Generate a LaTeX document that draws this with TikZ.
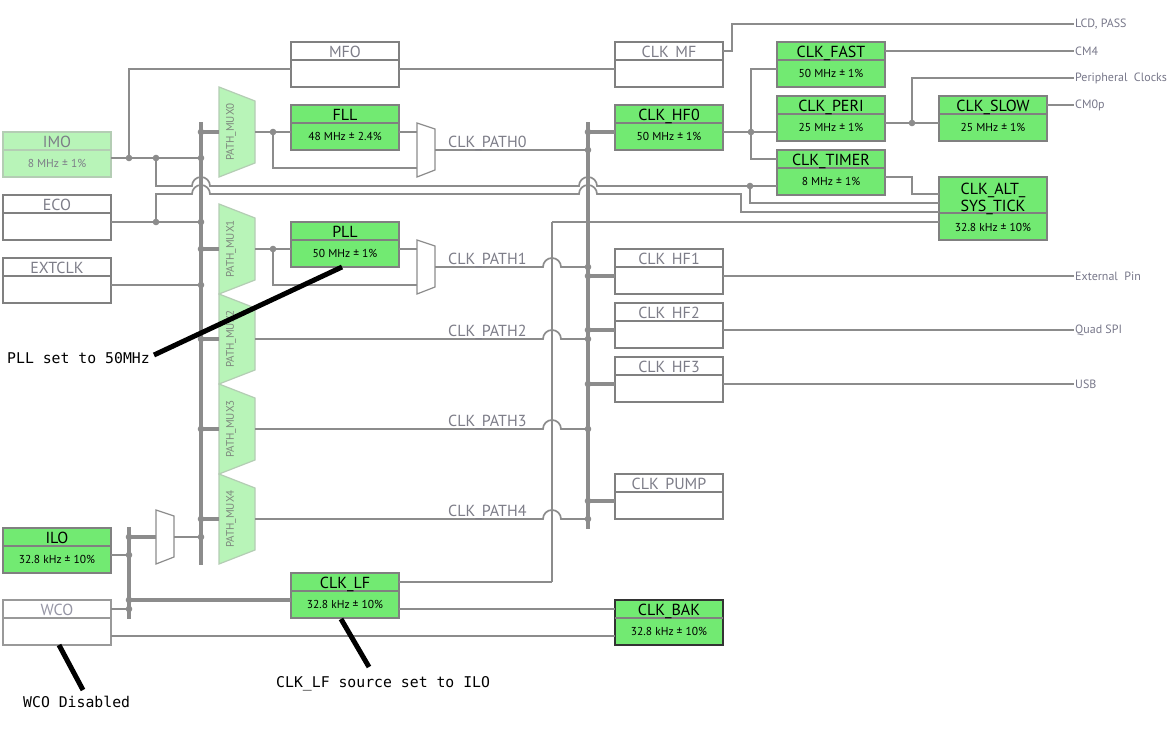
\documentclass[tikz,border=0pt]{standalone}
\usepackage{fontspec}
\setmainfont{PT Sans}
\newfontfamily\monof{DejaVu Sans Mono}
\definecolor{lc}{RGB}{140,140,140}
\definecolor{bc}{RGB}{128,128,128}
\definecolor{gr}{RGB}{114,234,114}
\definecolor{lgr}{RGB}{184,244,184}
\definecolor{lgb}{RGB}{180,205,180}
\definecolor{tg}{RGB}{125,125,136}
\definecolor{tw}{RGB}{150,150,165}
\definecolor{mt}{RGB}{125,135,125}
\definecolor{ot}{RGB}{120,120,138}
\newcommand\hfs{\fontsize{16}{18}\selectfont}
\newcommand\bfs{\fontsize{11.5}{13}\selectfont}
\newcommand\mfs{\fontsize{11}{13}\selectfont}
\newcommand\ofs{\fontsize{12}{14}\selectfont}
\newcommand\afs{\fontsize{14.8}{17}\selectfont}
\tikzset{
  wire/.style={draw=lc, line width=1.7pt},
  buswire/.style={draw=lc, line width=3.6pt},
  anno/.style={draw=black, line width=5pt},
  g/.style={draw=bc, fill=gr, line width=1.7pt},
  g sep/.style={draw=bc, line width=1.5pt},
  g head/.style={font=\hfs, text=black, anchor=base, inner sep=0pt},
  g body/.style={font=\bfs, text=black, anchor=base, inner sep=0pt},
  k/.style={draw=black!80, fill=gr, line width=1.7pt},
  k sep/.style={draw=bc, line width=1.5pt},
  k head/.style={font=\hfs, text=black, anchor=base, inner sep=0pt},
  k body/.style={font=\bfs, text=black, anchor=base, inner sep=0pt},
  w/.style={draw=bc, fill=white, line width=1.7pt},
  w sep/.style={draw=bc, line width=1.5pt},
  w head/.style={font=\hfs, text=tg, anchor=base, inner sep=0pt},
  w body/.style={font=\bfs, text=tg, anchor=base, inner sep=0pt},
  wl/.style={draw=bc!80, fill=white, line width=1.7pt},
  wl sep/.style={draw=bc!80, line width=1.5pt},
  wl head/.style={font=\hfs, text=tw, anchor=base, inner sep=0pt},
  wl body/.style={font=\bfs, text=tw, anchor=base, inner sep=0pt},
  l/.style={draw=lgb, fill=lgr, line width=1.7pt},
  l sep/.style={draw=lgb, line width=1.5pt},
  l head/.style={font=\hfs, text=tg, anchor=base, inner sep=0pt},
  l body/.style={font=\bfs, text=tg, anchor=base, inner sep=0pt},
  muxshape/.style={draw=lgb, fill=lgr, line width=1.2pt},
  smuxshape/.style={draw=lc, fill=white, line width=1.2pt},
  pathlbl/.style={font=\hfs, text=tg, anchor=base west, inner sep=0pt},
  outlbl/.style={font=\ofs, text=ot, anchor=west, inner sep=0pt},
  annolbl/.style={font=\monof\afs, text=black, anchor=base west, inner sep=0pt},
}
\newcommand\ckbox[6]{%
  \node[#1, anchor=north west, minimum width=108pt, minimum height=45pt, inner sep=0pt, outer sep=0pt] (#2) at (#3,#4) {};
  \draw[#1 sep] ([yshift=-18pt]#2.north west) -- ([yshift=-18pt]#2.north east);
  \node[#1 head] (#2-h) at ([yshift=-15.5pt]#2.north) {#5};
  \node[#1 body] (#2-b) at ([yshift=-35.5pt]#2.north) {#6};
}
\newcommand\pmux[3]{%
  \coordinate (#1) at (219,#2);
  \draw[muxshape] (219,{#2-45}) -- (255,{#2-31}) -- (255,{#2+31}) -- (219,{#2+45}) -- cycle;
  \node[rotate=90, font=\mfs, text=mt, inner sep=0pt] (#1-t) at (231,#2) {#3};
}
\newcommand\smux[3]{%
  \coordinate (#1) at (#2,#3);
  \draw[smuxshape] (#2,{#3-27}) -- ({#2+18},{#3-21}) -- ({#2+18},{#3+20}) -- (#2,{#3+27}) -- cycle;
}
\newcommand\jd[2]{\fill[lc] (#1,#2) circle (3.3pt);}
\begin{document}
\begin{tikzpicture}[x=1pt,y=-1pt]
\useasboundingbox[fill=white] (0,0) rectangle (1168,739);

% ---------- buses ----------
\coordinate (b1) at (201,0);
\coordinate (b2) at (588,0);
\draw[buswire] (201,122) -- (201,565);
\draw[buswire] (588,122) -- (588,529);
\draw[buswire] (129,527) -- (129,619);
\draw[wire] (552,582) -- (552,222);

% ---------- boxes ----------
\ckbox{l}{imo}{3}{132}{IMO}{8 MHz ± 1\%}
\ckbox{w}{eco}{3}{195}{ECO}{}
\ckbox{w}{extclk}{3}{258}{EXTCLK}{}
\ckbox{g}{ilo}{3}{528}{ILO}{32.8 kHz ± 10\%}
\ckbox{wl}{wco}{3}{600}{WCO}{}
\ckbox{w}{mfo}{291}{42}{MFO}{}
\ckbox{g}{fll}{291}{105}{FLL}{48 MHz ± 2.4\%}
\ckbox{g}{pll}{291}{222}{PLL}{50 MHz ± 1\%}
\ckbox{g}{clklf}{291}{573}{CLK\_LF}{32.8 kHz ± 10\%}
\ckbox{w}{clkmf}{615}{42}{CLK\_MF}{}
\ckbox{g}{hf0}{615}{105}{CLK\_HF0}{50 MHz ± 1\%}
\ckbox{w}{hf1}{615}{249}{CLK\_HF1}{}
\ckbox{w}{hf2}{615}{303}{CLK\_HF2}{}
\ckbox{w}{hf3}{615}{357}{CLK\_HF3}{}
\ckbox{w}{pump}{615}{474}{CLK\_PUMP}{}
\ckbox{k}{bak}{615}{600}{CLK\_BAK}{32.8 kHz ± 10\%}
\ckbox{g}{fast}{777}{42}{CLK\_FAST}{50 MHz ± 1\%}
\ckbox{g}{peri}{777}{96}{CLK\_PERI}{25 MHz ± 1\%}
\ckbox{g}{timer}{777}{150}{CLK\_TIMER}{8 MHz ± 1\%}
\ckbox{g}{slow}{939}{96}{CLK\_SLOW}{25 MHz ± 1\%}
% CLK_ALT_SYS_TICK (taller header)
\node[g, anchor=north west, minimum width=108pt, minimum height=63pt, inner sep=0pt, outer sep=0pt] (alt) at (939,177) {};
\draw[g sep] ([yshift=-36pt]alt.north west) -- ([yshift=-36pt]alt.north east);
\node[g head] (alt-h1) at ([yshift=-17pt]alt.north) {CLK\_ALT\_};
\node[g head] (alt-h2) at ([yshift=-34pt]alt.north) {SYS\_TICK};
\node[g body] (alt-b) at ([yshift=-54pt]alt.north) {32.8 kHz ± 10\%};

% ---------- muxes ----------
\pmux{m0}{132}{PATH\_MUX0}
\pmux{m1}{249}{PATH\_MUX1}
\pmux{m2}{339}{PATH\_MUX2}
\pmux{m3}{429}{PATH\_MUX3}
\pmux{m4}{519}{PATH\_MUX4}
\smux{s0}{417}{150}
\smux{s1}{417}{267}
\smux{s4}{156}{537}

% ---------- left inputs ----------
\draw[wire] (imo.east |- 0,158) -- (b1 |- 0,158);
\draw[wire] (129,158) -- (129,69) -- (mfo.west |- 0,69);
\draw[wire] (156,158) -- (156,186) -- (192,186) arc[start angle=180,end angle=0,radius=9pt]
  -- (579,186) arc[start angle=180,end angle=0,radius=9pt] -- (timer.west |- 0,186);
\draw[wire] (750,186) -- (750,203) -- (alt.west |- 0,203);
\draw[wire] (eco.east |- 0,222) -- (b1 |- 0,222);
\draw[wire] (156,222) -- (156,194) -- (192,194) arc[start angle=180,end angle=0,radius=9pt]
  -- (579,194) arc[start angle=180,end angle=0,radius=9pt] -- (741,194) -- (741,212) -- (alt.west |- 0,212);
\draw[wire] (extclk.east |- 0,285) -- (b1 |- 0,285);

% stubs into path muxes
\foreach \yy in {132,249,339,429,519} {\draw[buswire] (201,\yy) -- (219,\yy);}

% ---------- path 0 / 1 ----------
\draw[wire] (255,132) -- (fll.west |- 0,132);
\draw[wire] (273,132) -- (273,168) -- (s0 |- 0,168);
\draw[wire] (fll.east |- 0,132) -- (s0 |- 0,132);
\draw[wire] (435,150) -- (b2 |- 0,150);
\draw[wire] (255,249) -- (pll.west |- 0,249);
\draw[wire] (273,249) -- (273,285) -- (s1 |- 0,285);
\draw[wire] (pll.east |- 0,249) -- (s1 |- 0,249);
\draw[wire] (435,267) -- (543,267) arc[start angle=180,end angle=0,radius=9pt] -- (b2 |- 0,267);
\draw[wire] (255,339) -- (543,339) arc[start angle=180,end angle=0,radius=9pt] -- (b2 |- 0,339);
\draw[wire] (255,429) -- (543,429) arc[start angle=180,end angle=0,radius=9pt] -- (b2 |- 0,429);
\draw[wire] (255,519) -- (543,519) arc[start angle=180,end angle=0,radius=9pt] -- (b2 |- 0,519);

\node[pathlbl] (p0) at (448,147) {CLK\_PATH0};
\node[pathlbl] (p1) at (448,264) {CLK\_PATH1};
\node[pathlbl] (p2) at (448,336) {CLK\_PATH2};
\node[pathlbl] (p3) at (448,426) {CLK\_PATH3};
\node[pathlbl] (p4) at (448,516) {CLK\_PATH4};

% ---------- bus2 outputs ----------
\draw[buswire] (588,132) -- (hf0.west |- 0,132);
\draw[buswire] (588,276) -- (hf1.west |- 0,276);
\draw[buswire] (588,330) -- (hf2.west |- 0,330);
\draw[buswire] (588,384) -- (hf3.west |- 0,384);
\draw[buswire] (588,501) -- (pump.west |- 0,501);

% ---------- right side ----------
\draw[wire] (mfo.east |- 0,69) -- (clkmf.west |- 0,69);
\draw[wire] (clkmf.east |- 0,51) -- (732,51) -- (732,24) -- (1074,24);
\draw[wire] (hf0.east |- 0,132) -- (peri.west |- 0,132);
\draw[wire] (751,132) -- (751,69) -- (fast.west |- 0,69);
\draw[wire] (751,132) -- (751,159) -- (timer.west |- 0,159);
\draw[wire] (fast.east |- 0,51) -- (1074,51);
\draw[wire] (peri.east |- 0,123) -- (slow.west |- 0,123);
\draw[wire] (912,123) -- (912,78) -- (1074,78);
\draw[wire] (slow.east |- 0,105) -- (1074,105);
\draw[wire] (timer.east |- 0,177) -- (912,177) -- (912,194) -- (alt.west |- 0,194);
\draw[wire] (hf1.east |- 0,276) -- (1074,276);
\draw[wire] (hf2.east |- 0,330) -- (1074,330);
\draw[wire] (hf3.east |- 0,384) -- (1074,384);

\node[outlbl] (o1) at (1075,24) {LCD, PASS};
\node[outlbl] (o2) at (1075,51) {CM4};
\node[outlbl] (o3) at (1075,78) {Peripheral\ \ Clocks};
\node[outlbl] (o4) at (1075,105) {CM0p};
\node[outlbl] (o5) at (1075,276) {External\ \ Pin};
\node[outlbl] (o6) at (1075,330) {Quad SPI};
\node[outlbl] (o7) at (1075,384) {USB};

% ---------- low-frequency part ----------
\draw[wire] (ilo.east |- 0,555) -- (129,555);
\draw[wire] (wco.east |- 0,609) -- (129,609);
\draw[buswire] (129,537) -- (s4 |- 0,537);
\draw[wire] (174,537) -- (b1 |- 0,537);
\draw[buswire] (129,600) -- (clklf.west |- 0,600);
\draw[wire] (clklf.east |- 0,582) -- (552,582);
\draw[wire] (552,222) -- (alt.west |- 0,222);
\draw[wire] (clklf.east |- 0,609) -- (bak.west |- 0,609);
\draw[wire] (wco.east |- 0,636) -- (bak.west |- 0,636);

% ---------- junction dots ----------
\jd{129}{158}\jd{156}{158}\jd{201}{158}
\jd{156}{222}\jd{201}{222}\jd{201}{285}
\foreach \yy in {132,249,339,429,519,537} {\jd{201}{\yy}}
\jd{273}{132}\jd{273}{249}
\foreach \yy in {132,150,267,276,330,339,384,429,501,519} {\jd{588}{\yy}}
\jd{751}{132}\jd{750}{186}\jd{912}{123}
\jd{129}{537}\jd{129}{555}\jd{129}{600}\jd{129}{609}

% ---------- annotations ----------
\coordinate (a1) at (154,355);
\coordinate (a2) at (341,619);
\coordinate (a3) at (59,645);
\draw[anno] (a1) -- (342,267);
\draw[anno] (a2) -- (369,667);
\draw[anno] (a3) -- (83,690);
\node[annolbl] (t1) at (7,363) {PLL set to 50MHz};
\node[annolbl] (t2) at (276,687) {CLK\_LF source set to ILO};
\node[annolbl] (t3) at (23,707) {WCO Disabled};
\end{tikzpicture}
\end{document}
